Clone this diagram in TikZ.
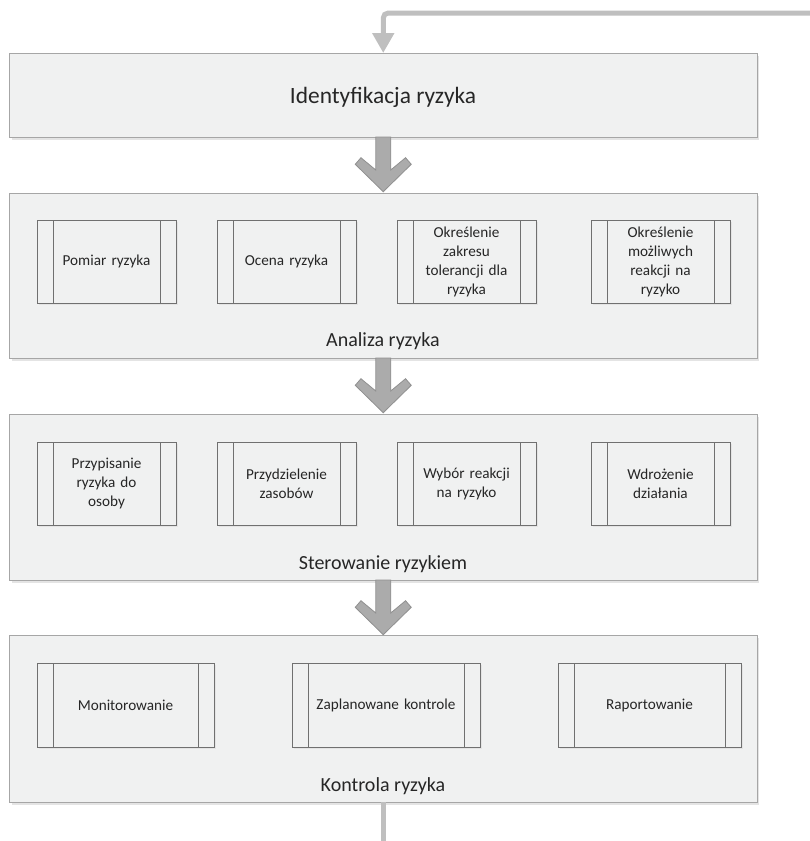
\documentclass[tikz,border=0pt]{standalone}
\usepackage{fontspec}
\setmainfont{Carlito}
\usetikzlibrary{shadows,arrows.meta,calc}
\definecolor{boxfill}{HTML}{F0F1F1}
\definecolor{bigline}{HTML}{A6A6A6}
\definecolor{subline}{HTML}{707070}
\definecolor{txt}{HTML}{262626}
\definecolor{arrfill}{HTML}{ABABAB}
\definecolor{arrline}{HTML}{909090}
\definecolor{fbline}{HTML}{BFBFBF}
\definecolor{shadowc}{HTML}{E4E4E4}
\tikzset{
  bigbox/.style={draw=bigline, line width=1pt, fill=boxfill, inner sep=0pt, outer sep=0pt,
    minimum width=747.5pt, drop shadow={shadow xshift=2pt, shadow yshift=-2.5pt, fill=shadowc, opacity=1}},
  subbox/.style={draw=subline, line width=0.9pt, fill=boxfill, inner sep=0pt, outer sep=0pt,
    minimum height=83pt, text=txt, align=center, text width=106pt,
    font=\fontsize{15.2}{19}\selectfont,
    drop shadow={shadow xshift=2pt, shadow yshift=-2pt, fill=shadowc, opacity=1},
    path picture={
      \draw[subline, line width=0.9pt] ([xshift=16pt]path picture bounding box.north west) -- ([xshift=16pt]path picture bounding box.south west);
      \draw[subline, line width=0.9pt] ([xshift=-16pt]path picture bounding box.north east) -- ([xshift=-16pt]path picture bounding box.south east);
    }},
  biglabel/.style={text=txt, inner sep=0pt, font=\fontsize{20}{24}\selectfont},
  bigarrow/.pic={
    \draw[fill=arrfill, draw=arrline, line width=0.8pt, line join=miter]
      (-7.5,0) -- (-7.5,33) -- (-22.3,20.7) -- (-28,27.3) -- (0,54.7) -- (28,27.3) -- (22.3,20.7) -- (7.5,33) -- (7.5,0) -- cycle;
  },
  fb/.style={draw=fbline, line width=5pt}
}
\begin{document}
\begin{tikzpicture}[x=1pt,y=-1pt]
\useasboundingbox (0,0) rectangle (809,841);
% big boxes
\node[bigbox, minimum height=84pt] (ident) at (383.25,95) {};
\node[bigbox, minimum height=165pt] (anal) at (383.25,275.5) {};
\node[bigbox, minimum height=166pt] (ster) at (383.25,497) {};
\node[bigbox, minimum height=167pt] (kontr) at (383.25,718.5) {};
% labels
\node[text=txt, inner sep=0pt, font=\fontsize{23.4}{28}\selectfont] (identlab) at (383,97) {Identyfikacja ryzyka};
\node[biglabel] (anallab) at (383,341) {Analiza ryzyka};
\node[biglabel] (sterlab) at (383,564) {Sterowanie ryzykiem};
\node[biglabel] (kontrlab) at (383,786) {Kontrola ryzyka};
% analiza sub boxes
\node[subbox, minimum width=139pt] (a1) at (106.5,261.5) {Pomiar ryzyka};
\node[subbox, minimum width=139pt] (a2) at (286.5,261.5) {Ocena ryzyka};
\node[subbox, minimum width=139pt] (a3) at (466.5,261.5) {Określenie\\zakresu\\tolerancji dla\\ryzyka};
\node[subbox, minimum width=139pt] (a4) at (660.5,261.5) {Określenie\\możliwych\\reakcji na\\ryzyko};
% sterowanie sub boxes
\node[subbox, minimum width=139pt] (s1) at (106.5,483.5) {Przypisanie\\ryzyka do\\osoby};
\node[subbox, minimum width=139pt] (s2) at (286.5,483.5) {Przydzielenie\\zasobów};
\node[subbox, minimum width=139pt] (s3) at (466.5,483.5) {Wybór reakcji\\na ryzyko};
\node[subbox, minimum width=139pt] (s4) at (660.5,483.5) {Wdrożenie\\działania};
% kontrola sub boxes
\node[subbox, minimum width=177pt, minimum height=84pt, text width=140pt] (k1) at (125.5,705) {Monitorowanie};
\node[subbox, minimum width=188pt, minimum height=84pt, text width=150pt] (k2) at (386,705) {Zaplanowane kontrole};
\node[subbox, minimum width=183pt, minimum height=84pt, text width=145pt] (k3) at (649.5,705) {Raportowanie};
% chevron arrows between stages
\pic at (ident.south) {bigarrow};
\pic at (anal.south) {bigarrow};
\pic at (ster.south) {bigarrow};
% feedback line
\coordinate (fbstart) at (812,13);
\coordinate (fbend) at (383.25,843);
\draw[fb, rounded corners=5pt, -{Triangle[width=21pt,length=20pt]}] (fbstart) -| (ident.north);
\draw[fb] (kontr.south) -- (fbend);
\end{tikzpicture}
\end{document}
